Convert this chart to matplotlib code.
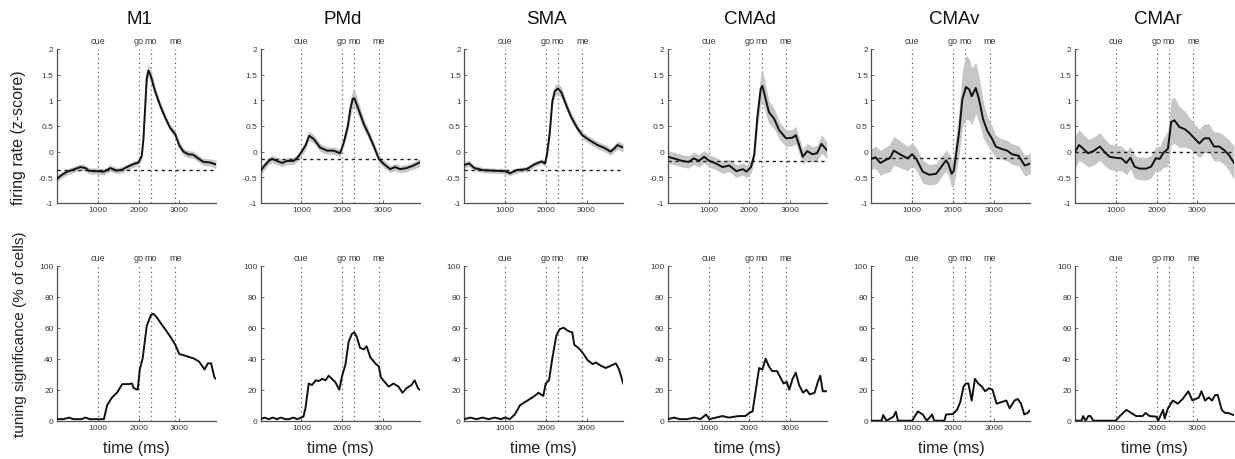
import matplotlib
matplotlib.use("Agg")
import matplotlib.pyplot as plt
import numpy as np

plt.rcParams["font.family"] = ["Liberation Sans", "DejaVu Sans"]

areas = ["M1", "PMd", "SMA", "CMAd", "CMAv", "CMAr"]
event_names = ["cue", "go", "mo", "me"]
event_times = [1000, 2000, 2300, 2900]
time_ticks = [1000, 2000, 3000]
time_tick_labels = ["1000", "2000", "3000"]
rate_ticks = [-1, -0.5, 0, 0.5, 1, 1.5, 2]
rate_tick_labels = ["-1", "-0.5", "0", "0.5", "1", "1.5", "2"]
tuning_ticks = [0, 20, 40, 60, 80, 100]
tuning_tick_labels = ["0", "20", "40", "60", "80", "100"]

# ---- population firing rate (z-score): mean, SEM and baseline per area ----
m1_rate_t = [0, 120, 250, 400, 575, 700, 780, 900, 1000, 1150, 1310, 1470, 1600, 1715, 1880, 2000, 2080, 2120,
             2160, 2200, 2240, 2300, 2400, 2530, 2650, 2770, 2900, 3000, 3100, 3220, 3340, 3460, 3590, 3750, 3900]
m1_rate = [-0.53, -0.45, -0.39, -0.35, -0.30, -0.32, -0.37, -0.38, -0.38, -0.39, -0.32, -0.37, -0.35, -0.30,
           -0.24, -0.21, -0.08, 0.25, 0.83, 1.42, 1.58, 1.48, 1.19, 0.90, 0.67, 0.47, 0.34, 0.12, 0.00, -0.05,
           -0.06, -0.13, -0.20, -0.21, -0.25]
m1_rate_sem = [0.06, 0.06, 0.06, 0.06, 0.06, 0.06, 0.06, 0.06, 0.06, 0.06, 0.06, 0.06, 0.06, 0.06, 0.06, 0.06,
               0.07, 0.08, 0.10, 0.12, 0.13, 0.12, 0.10, 0.08, 0.07, 0.07, 0.07, 0.07, 0.07, 0.07, 0.07, 0.07,
               0.07, 0.07, 0.08]
m1_baseline = -0.36

pmd_rate_t = [0, 100, 200, 280, 400, 530, 650, 810, 900, 1000, 1100, 1190, 1300, 1460, 1630, 1790, 1950, 2040,
              2140, 2200, 2260, 2300, 2400, 2530, 2650, 2770, 2900, 3020, 3180, 3300, 3420, 3580, 3750, 3900]
pmd_rate = [-0.37, -0.27, -0.18, -0.14, -0.18, -0.22, -0.18, -0.18, -0.12, -0.01, 0.12, 0.31, 0.25, 0.08, 0.02,
            0.02, -0.03, 0.18, 0.50, 0.83, 1.03, 1.04, 0.83, 0.54, 0.34, 0.12, -0.14, -0.24, -0.34, -0.30, -0.34,
            -0.32, -0.27, -0.21]
pmd_rate_sem = [0.08, 0.08, 0.07, 0.07, 0.07, 0.07, 0.07, 0.07, 0.07, 0.08, 0.08, 0.09, 0.08, 0.08, 0.07, 0.07,
                0.07, 0.08, 0.12, 0.16, 0.18, 0.18, 0.14, 0.11, 0.09, 0.08, 0.08, 0.08, 0.07, 0.07, 0.07, 0.07,
                0.07, 0.08]
pmd_baseline = -0.15

sma_rate_t = [0, 120, 250, 460, 700, 1000, 1120, 1290, 1530, 1740, 1900, 1980, 2030, 2100, 2160, 2220, 2300, 2380,
              2500, 2620, 2780, 2900, 3060, 3270, 3470, 3590, 3680, 3760, 3840, 3900]
sma_rate = [-0.26, -0.23, -0.32, -0.36, -0.37, -0.38, -0.42, -0.36, -0.34, -0.24, -0.19, -0.23, -0.06, 0.38, 0.97,
            1.18, 1.23, 1.16, 0.91, 0.68, 0.45, 0.32, 0.23, 0.13, 0.06, 0.00, 0.06, 0.13, 0.10, 0.08]
sma_rate_sem = [0.06, 0.06, 0.05, 0.05, 0.05, 0.05, 0.05, 0.05, 0.05, 0.05, 0.05, 0.05, 0.06, 0.08, 0.10, 0.11,
                0.11, 0.10, 0.09, 0.08, 0.07, 0.07, 0.07, 0.07, 0.07, 0.07, 0.07, 0.08, 0.08, 0.08]
sma_baseline = -0.36

cmad_rate_t = [0, 140, 350, 510, 640, 760, 890, 1020, 1180, 1340, 1510, 1680, 1840, 1930, 2040, 2120, 2200, 2280,
               2320, 2400, 2480, 2610, 2730, 2900, 3050, 3140, 3220, 3310, 3420, 3550, 3660, 3770, 3900]
cmad_rate = [-0.10, -0.13, -0.18, -0.20, -0.13, -0.18, -0.10, -0.18, -0.23, -0.30, -0.27, -0.38, -0.34, -0.39,
             -0.30, -0.06, 0.70, 1.23, 1.28, 1.03, 0.77, 0.64, 0.42, 0.26, 0.27, 0.32, 0.13, -0.10, 0.01, -0.05,
             -0.03, 0.15, 0.03]
cmad_rate_sem = [0.12, 0.12, 0.12, 0.12, 0.12, 0.12, 0.12, 0.12, 0.12, 0.12, 0.12, 0.12, 0.12, 0.12, 0.12, 0.14,
                 0.22, 0.30, 0.32, 0.28, 0.22, 0.20, 0.17, 0.16, 0.16, 0.17, 0.16, 0.15, 0.15, 0.15, 0.15, 0.18,
                 0.16]
cmad_baseline = -0.18

cmav_rate_t = [0, 100, 220, 350, 450, 550, 720, 890, 1000, 1100, 1260, 1420, 1590, 1710, 1830, 1890, 1970, 2020,
               2150, 2230, 2320, 2400, 2460, 2560, 2640, 2740, 2840, 2960, 3050, 3170, 3330, 3450, 3610, 3760, 3900]
cmav_rate = [-0.14, -0.11, -0.22, -0.16, -0.13, 0.02, -0.06, -0.13, -0.05, -0.14, -0.39, -0.45, -0.43, -0.30,
             -0.17, -0.24, -0.43, -0.37, 0.37, 1.02, 1.26, 1.21, 1.08, 1.24, 1.02, 0.63, 0.41, 0.25, 0.10, 0.06,
             0.02, -0.05, -0.08, -0.27, -0.23]
cmav_rate_sem = [0.20, 0.22, 0.24, 0.25, 0.27, 0.28, 0.26, 0.24, 0.22, 0.22, 0.22, 0.20, 0.20, 0.20, 0.20, 0.22,
                 0.27, 0.30, 0.45, 0.55, 0.62, 0.60, 0.55, 0.50, 0.45, 0.35, 0.28, 0.25, 0.22, 0.20, 0.20, 0.20,
                 0.20, 0.20, 0.20]
cmav_baseline = -0.12

cmar_rate_t = [0, 100, 200, 320, 450, 610, 730, 850, 1000, 1140, 1260, 1360, 1460, 1580, 1750, 1870, 1980, 2080,
               2160, 2280, 2360, 2440, 2560, 2690, 2810, 2930, 3050, 3170, 3290, 3410, 3540, 3660, 3780, 3900]
cmar_rate = [0.00, 0.13, 0.06, -0.03, 0.01, 0.10, -0.01, -0.10, -0.12, -0.13, -0.22, -0.12, -0.29, -0.33, -0.33,
             -0.29, -0.13, -0.14, -0.03, 0.06, 0.58, 0.61, 0.48, 0.44, 0.36, 0.26, 0.16, 0.26, 0.26, 0.10, 0.10,
             0.03, -0.07, -0.22]
cmar_rate_sem = [0.30, 0.30, 0.28, 0.27, 0.27, 0.27, 0.26, 0.25, 0.25, 0.24, 0.23, 0.22, 0.22, 0.22, 0.22, 0.22,
                 0.23, 0.24, 0.28, 0.35, 0.45, 0.45, 0.40, 0.35, 0.30, 0.28, 0.28, 0.28, 0.28, 0.28, 0.28, 0.28,
                 0.30, 0.33]
cmar_baseline = 0.0

# ---- directional tuning significance (% of cells) per area ----
m1_tun_t = [0, 150, 300, 400, 500, 600, 700, 800, 900, 1000, 1150, 1230, 1350, 1470, 1600, 1760, 1840, 1880, 1980,
            2030, 2100, 2200, 2300, 2360, 2440, 2570, 2680, 2810, 2900, 3000, 3130, 3250, 3370, 3490, 3620, 3700,
            3780, 3860, 3900]
m1_tun = [1, 1, 2, 1, 1, 1, 2, 1, 1, 1, 1, 10, 15, 18, 23.6, 23.6, 24, 21, 20, 33, 40, 61, 68, 69, 67, 62, 58, 53,
          49, 43, 42, 41, 40, 38, 33, 37, 37, 28, 27]

pmd_tun_t = [0, 100, 200, 300, 400, 500, 600, 700, 800, 900, 950, 1050, 1100, 1180, 1260, 1350, 1430, 1510, 1590,
             1670, 1750, 1830, 1930, 2000, 2080, 2160, 2240, 2300, 2360, 2440, 2530, 2600, 2690, 2810, 2900, 2950,
             3010, 3140, 3260, 3380, 3480, 3580, 3700, 3780, 3860, 3900]
pmd_tun = [1, 2, 1, 2, 1, 2, 1, 1, 2, 1, 1.5, 2.6, 8, 24, 23, 26, 25.6, 27, 26, 29, 27, 25, 20, 29, 36, 51, 56, 57,
           54, 47, 46, 48, 41, 37, 35, 28, 26, 22, 24, 22, 18, 21, 23, 26, 21, 20]

sma_tun_t = [0, 150, 300, 450, 600, 750, 900, 1000, 1120, 1240, 1370, 1490, 1610, 1730, 1820, 1940, 2000, 2080,
             2160, 2260, 2340, 2440, 2540, 2650, 2700, 2800, 2900, 3030, 3150, 3230, 3350, 3470, 3600, 3720, 3800,
             3900]
sma_tun = [1, 2, 1, 2, 1, 2, 1, 2, 1, 4, 10, 12, 14, 16, 18, 16, 24, 26, 40, 55, 59, 60, 58, 57, 49, 47, 44, 39,
           36.5, 37.6, 35.5, 34, 35.5, 37, 33, 24]

cmad_tun_t = [0, 150, 300, 470, 650, 800, 940, 1020, 1180, 1340, 1500, 1740, 1900, 2000, 2080, 2160, 2240, 2320,
              2400, 2480, 2560, 2680, 2760, 2840, 2920, 2980, 3060, 3140, 3220, 3320, 3400, 3480, 3600, 3680, 3740,
              3800, 3880]
cmad_tun = [1, 2, 1, 1, 2, 1, 4, 1, 2, 3, 2, 3, 3, 5, 6, 20, 34, 33, 40, 35, 32, 32, 28, 24, 25, 20, 27, 31, 23,
            18, 20, 17, 18, 25, 29, 19, 19]

cmav_tun_t = [0, 250, 290, 370, 540, 600, 650, 1000, 1140, 1260, 1360, 1490, 1540, 1790, 1830, 2000, 2100, 2180,
              2260, 2320, 2380, 2460, 2540, 2620, 2710, 2790, 2890, 2970, 3070, 3190, 3310, 3390, 3510, 3590, 3670,
              3750, 3830, 3900]
cmav_tun = [0, 0, 3.7, 0, 2.6, 5.8, 0, 0, 6, 4, 0, 4, 0, 0, 4, 4.3, 7, 12, 22, 24, 24, 13, 27, 24, 22, 19, 21, 20,
            11, 12, 13, 8, 13, 14, 11, 4, 5, 7]

cmar_tun_t = [0, 160, 200, 260, 330, 380, 450, 1000, 1100, 1180, 1260, 1380, 1500, 1660, 1730, 1830, 2000, 2040,
              2160, 2200, 2280, 2400, 2520, 2640, 2780, 2880, 2960, 3040, 3100, 3190, 3280, 3360, 3440, 3500, 3600,
              3680, 3760, 3880]
cmar_tun = [0, 0, 3, 0, 3, 3, 0, 0, 3, 5, 7, 5, 3, 3, 5, 3, 2.6, 0, 7, 1.5, 8, 13, 11, 14, 19, 13, 14, 15, 19, 13,
            15, 13, 16.6, 16.6, 7, 5, 5, 3.7]

rate_data = [
    (m1_rate_t, m1_rate, m1_rate_sem, m1_baseline),
    (pmd_rate_t, pmd_rate, pmd_rate_sem, pmd_baseline),
    (sma_rate_t, sma_rate, sma_rate_sem, sma_baseline),
    (cmad_rate_t, cmad_rate, cmad_rate_sem, cmad_baseline),
    (cmav_rate_t, cmav_rate, cmav_rate_sem, cmav_baseline),
    (cmar_rate_t, cmar_rate, cmar_rate_sem, cmar_baseline),
]
tuning_data = [
    (m1_tun_t, m1_tun), (pmd_tun_t, pmd_tun), (sma_tun_t, sma_tun),
    (cmad_tun_t, cmad_tun), (cmav_tun_t, cmav_tun), (cmar_tun_t, cmar_tun),
]

W, H = 1235, 460
fig = plt.figure(figsize=(W / 100, H / 100), dpi=100)

tick_color = "#3a3a3a"
axis_color = "#505050"
event_color = "#606060"


def style_axes(ax, yticks, ylabels, ylim):
    ax.set_xlim(0, 3900)
    ax.set_ylim(*ylim)
    ax.set_xticks(time_ticks)
    ax.set_xticklabels(time_tick_labels)
    ax.set_yticks(yticks)
    ax.set_yticklabels(ylabels)
    for side in ("top", "right"):
        ax.spines[side].set_visible(False)
    for side in ("left", "bottom"):
        ax.spines[side].set_color(axis_color)
        ax.spines[side].set_linewidth(0.9)
    ax.tick_params(direction="in", length=2, width=0.6, colors=axis_color,
                   labelsize=6, labelcolor=tick_color, pad=2.5)
    for name, t in zip(event_names, event_times):
        ax.axvline(t, color=event_color, lw=0.9, ls=(0, (1, 2.6)), zorder=1)
        ax.annotate(name, xy=(t, 1.0), xycoords=("data", "axes fraction"),
                    xytext=(0, 3), textcoords="offset points",
                    ha="center", va="bottom", fontsize=6.5, color=tick_color)


for i, area in enumerate(areas):
    left_px = 57 + i * 203.6
    ax_top = fig.add_axes([left_px / W, (H - 204) / H, 159 / W, 154 / H])
    ax_bot = fig.add_axes([left_px / W, (H - 421.7) / H, 159 / W, 155 / H])

    t, m, s, base = rate_data[i]
    t = np.asarray(t, float)
    m = np.asarray(m, float)
    s = np.asarray(s, float)
    ax_top.fill_between(t, m - s, m + s, color="#c6c6c6", lw=0, zorder=2)
    ax_top.axhline(base, color="#222222", lw=1.0, ls=(0, (2.4, 2.6)), zorder=3)
    ax_top.plot(t, m, color="#111111", lw=1.4, zorder=4)
    style_axes(ax_top, rate_ticks, rate_tick_labels, (-1, 2))

    tt, tv = tuning_data[i]
    ax_bot.plot(tt, tv, color="#111111", lw=1.4, zorder=4)
    style_axes(ax_bot, tuning_ticks, tuning_tick_labels, (0, 100))

    cx = (left_px + 79.5) / W
    fig.text(cx + 3 / W, 1 - 19 / H, area, ha="center", va="center", fontsize=13.5, color="#111111")
    fig.text(cx, 1 - 449 / H, "time (ms)", ha="center", va="center", fontsize=11.5, color="#222222")

fig.text(19 / W, 1 - 138 / H, "firing rate (z-score)", rotation=90, ha="center", va="center",
         fontsize=11.5, color="#222222")
fig.text(20 / W, 1 - 334 / H, "tuning significance (% of cells)", rotation=90, ha="center", va="center",
         fontsize=11, color="#222222")

fig.savefig("out.png", dpi=100, facecolor="white")
